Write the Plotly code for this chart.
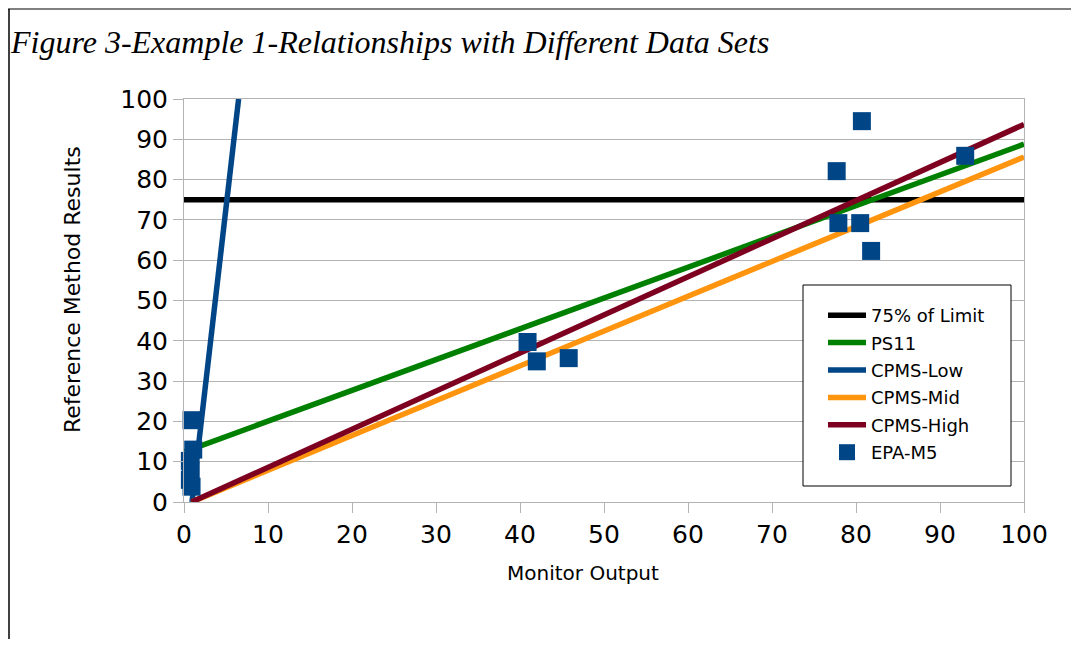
import plotly.graph_objects as go

# ---- data ----
limit_x = [0, 100]
limit_y = [75, 75]

ps11_x = [0.1, 100]
ps11_y = [12.5, 88.8]

low_x = [0.95, 6.5]
low_y = [0, 100]

mid_x = [0.9, 100]
mid_y = [0, 85.6]

high_x = [0.9, 100]
high_y = [0, 93.7]

epa_x = [0.9, 1.1, 0.7, 0.8, 0.7, 0.9, 40.9, 42.0, 45.8, 77.7, 80.7, 93.0, 77.9, 80.5, 81.8]
epa_y = [20.3, 13.0, 10.2, 7.8, 5.5, 3.8, 39.7, 34.9, 35.7, 82.1, 94.5, 85.9, 69.2, 69.2, 62.3]

x_ticks = list(range(0, 101, 10))
y_ticks = list(range(0, 101, 10))

title_text = "Figure 3-Example 1-Relationships with Different Data Sets"
x_title = "Monitor Output"
y_title = "Reference Method Results"

# ---- figure geometry (page has an 8px body margin) ----
OFF = 8
W, H = 1079 - 2 * OFF, 647 - 2 * OFF
L = 184 - OFF
T = 99 - OFF
pw, ph = 840, 403
R = W - L - pw
B = H - T - ph

def px(pxx):
    return (pxx - OFF - L) / pw

def py(pyy):
    return (T + ph - (pyy - OFF)) / ph

fig = go.Figure()
lw = 5.5
series = [
    ("75% of Limit", limit_x, limit_y, "#000000"),
    ("PS11", ps11_x, ps11_y, "#008000"),
    ("CPMS-Low", low_x, low_y, "#004586"),
    ("CPMS-Mid", mid_x, mid_y, "#ff950e"),
    ("CPMS-High", high_x, high_y, "#7e0021"),
]
for i, (name, xs, ys, col) in enumerate(series):
    fig.add_trace(go.Scatter(x=xs, y=ys, mode="lines", name=name,
                             line=dict(color=col, width=lw),
                             legendgroup=f"g{i}"))
fig.add_trace(go.Scatter(x=epa_x, y=epa_y, mode="markers", name="EPA-M5",
                         marker=dict(symbol="square", size=18, color="#004586",
                                     line=dict(width=0)),
                         legendgroup="g5", cliponaxis=False))

font = "DejaVu Sans, Verdana, sans-serif"
axis_common = dict(showline=True, linecolor="#b3b3b3", linewidth=1, mirror=True,
                   ticks="outside", ticklen=10, tickcolor="#b3b3b3", tickwidth=1,
                   zeroline=False, tickfont=dict(family=font, size=25, color="#000000"))

fig.update_layout(
    width=W, height=H,
    margin=dict(l=L, r=R, t=T, b=B, autoexpand=False),
    paper_bgcolor="white", plot_bgcolor="white",
    showlegend=True,
    xaxis=dict(range=[0, 100], tickvals=x_ticks, showgrid=False, **axis_common),
    yaxis=dict(range=[0, 100], tickvals=y_ticks, showgrid=True, gridcolor="#b3b3b3",
               gridwidth=1, **axis_common),
    legend=dict(x=px(823), y=py(297), xanchor="left", yanchor="top",
                bgcolor="rgba(0,0,0,0)", borderwidth=0,
                font=dict(family=font, size=18, color="#000000"),
                tracegroupgap=1, traceorder="grouped", itemwidth=38),
    shapes=[
        dict(type="rect", xref="paper", yref="paper",
             x0=px(803), x1=px(1011), y0=py(486), y1=py(285),
             line=dict(color="#000000", width=1), fillcolor="white", layer="above"),
        dict(type="line", xref="paper", yref="paper",
             x0=px(8), x1=px(1079), y0=py(9), y1=py(9),
             line=dict(color="#808080", width=2)),
        dict(type="line", xref="paper", yref="paper",
             x0=px(9), x1=px(9), y0=py(9), y1=py(647),
             line=dict(color="#000000", width=1.5)),
    ],
    annotations=[
        dict(text=title_text, xref="paper", yref="paper", x=px(8), y=py(42),
             xanchor="left", yanchor="middle", showarrow=False,
             font=dict(family="Liberation Serif, Times New Roman, serif", size=32, color="#000000",
                       style="italic")),
        dict(text=x_title, xref="paper", yref="paper", x=px(583), y=py(573),
             xanchor="center", yanchor="middle", showarrow=False,
             font=dict(family=font, size=20, color="#000000")),
        dict(text=y_title, xref="paper", yref="paper", x=px(72), y=py(290),
             xanchor="center", yanchor="middle", showarrow=False, textangle=-90,
             font=dict(family=font, size=22, color="#000000")),
    ],
)

fig.write_html("out.html")
